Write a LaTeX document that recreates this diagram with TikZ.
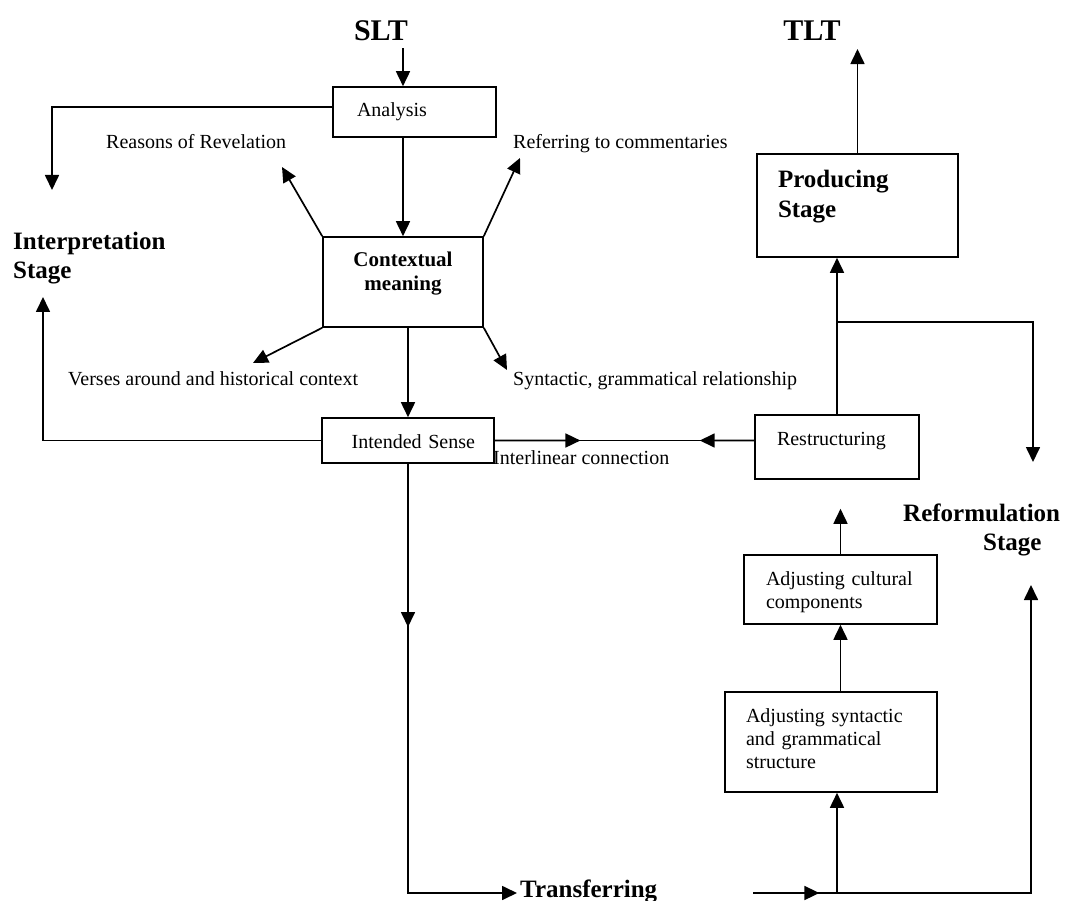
\documentclass[tikz,border=0pt]{standalone}
\usepackage{fontspec}
\setmainfont{Liberation Serif}
\usetikzlibrary{
  arrows.meta,
  positioning,
  calc
}
\tikzset{
  tbox/.style={
    draw, line width=1.6pt, inner ysep=0pt, text height=14pt,
    font=\fontsize{20}{23}\selectfont, align=left
  },
  stagelbl/.style={font=\fontsize{25}{29}\selectfont\bfseries, align=left, inner sep=0pt},
  endlbl/.style={font=\fontsize{30}{34}\selectfont\bfseries, inner sep=0pt},
  note/.style={font=\fontsize{20}{23}\selectfont, inner sep=0pt, anchor=base west},
  flow/.style={-{Triangle[length=15pt, width=14pt]}, line width=1.7pt},
  link/.style={line width=1.7pt}
}
\begin{document}
\begin{tikzpicture}[x=1pt, y=-1pt]
  \useasboundingbox (0,0) rectangle (1066,901);
  % stages
  \node[endlbl] (slt) at (381,31) {SLT};
  \node[endlbl] (tlt) at (812,31) {TLT};
  \node[stagelbl, anchor=base west] (interp) at (13,279) {Interpretation\\Stage};
  \node[stagelbl, anchor=base west] (reform) at (903,550) {Reformulation\\\hspace*{80pt}Stage};
  \node[stagelbl, anchor=base west] (transfer) at (520,897) {Transferring};
  % boxes
  \node[tbox, text width=115pt, inner xsep=24pt, minimum height=50pt, text depth=4pt] (analysis) at (414.5,112) {Analysis};
  \node[tbox, align=center, font=\fontsize{21}{24}\selectfont\bfseries, text width=140pt, inner xsep=10pt, minimum height=90pt, text depth=44pt] (ctx) at (403,282) {Contextual\\meaning};
  \node[tbox, align=right, text width=134pt, inner xsep=19pt, minimum height=45pt, text height=15pt, text depth=0pt] (intended) at (408,440.5) {Intended Sense};
  \node[tbox, font=\fontsize{25}{30}\selectfont\bfseries, text width=159pt, inner xsep=21pt, minimum height=103pt, text height=17pt, text depth=52pt] (producing) at (857.5,205.5) {Producing\\Stage};
  \node[tbox, text width=120pt, inner xsep=22pt, minimum height=64pt, text depth=18pt] (restr) at (837,447) {Restructuring};
  \node[tbox, text width=149pt, inner xsep=22pt, minimum height=69pt, text depth=23pt] (cultural) at (840.5,589.5) {Adjusting cultural\\components};
  \node[tbox, text width=170pt, inner xsep=21pt, minimum height=100pt, text depth=54pt] (syntax) at (831,742) {Adjusting syntactic\\and grammatical\\structure};
  % notes
  \node[note] (reasons) at (106,149) {Reasons of Revelation};
  \node[note] (refer) at (513,149) {Referring to commentaries};
  \node[note] (verses) at (68,385) {Verses around and historical context};
  \node[note] (syntrel) at (513,385) {Syntactic, grammatical relationship};
  \node[note] (interlin) at (493,464) {Interlinear connection};
  % free ends
  \coordinate (interpIn) at (52,190);
  \coordinate (interpOut) at (43,297);
  \coordinate (reasonsTip) at (282,167);
  \coordinate (referTip) at (520,158);
  \coordinate (versesTip) at (253,363);
  \coordinate (syntrelTip) at (507,370);
  \coordinate (reformIn) at (1033,462);
  \coordinate (reformUp) at (1031,585);
  \coordinate (transOut) at (517,893);
  \coordinate (transIn) at (753,893);
  \coordinate (junction) at (837,893);
  % interpretation
  \draw[flow, shorten <=7pt] (slt.south -| ctx.north) -- (analysis.north -| ctx.north);
  \draw[flow] ([yshift=5pt]analysis.west) -| (interpIn);
  \draw[flow] (analysis.south -| ctx.north) -- (ctx.north);
  \draw[flow] (ctx.north west) -- (reasonsTip);
  \draw[flow] (ctx.north east) -- (referTip);
  \draw[flow] (ctx.south west) -- (versesTip);
  \draw[flow] (ctx.south east) -- (syntrelTip);
  \draw[flow] (ctx.south -| intended.north) -- (intended.north);
  \draw[flow] (intended.west) -| (interpOut);
  % interlinear
  \draw[link] (intended.east) -- (restr.west |- intended.east);
  \draw[flow] (intended.east) -- ($(intended.east)!0.33!(restr.west |- intended.east)$);
  \draw[flow] (restr.west |- intended.east) -- ($(restr.west |- intended.east)!0.21!(intended.east)$);
  % transferring
  \draw[flow] (intended.south) -- (intended.south |- 0,627);
  \draw[flow] (intended.south) |- (transOut);
  % reformulation
  \draw[flow] (transIn) -| (reformUp);
  \draw[flow] (transIn) -- ($(transIn)!0.79!(junction)$);
  \draw[flow] (junction) -- (junction |- syntax.south);
  \draw[flow] (syntax.north -| cultural.south) -- (cultural.south);
  \draw[flow, shorten >=29pt] (cultural.north) -- (cultural.north |- restr.south);
  \draw[flow] (restr.north) -- (restr.north |- producing.south);
  \draw[flow] (restr.north |- 0,322) -| (reformIn);
  \draw[flow, shorten >=8pt] (producing.north) -- (producing.north |- tlt.south);
\end{tikzpicture}
\end{document}
